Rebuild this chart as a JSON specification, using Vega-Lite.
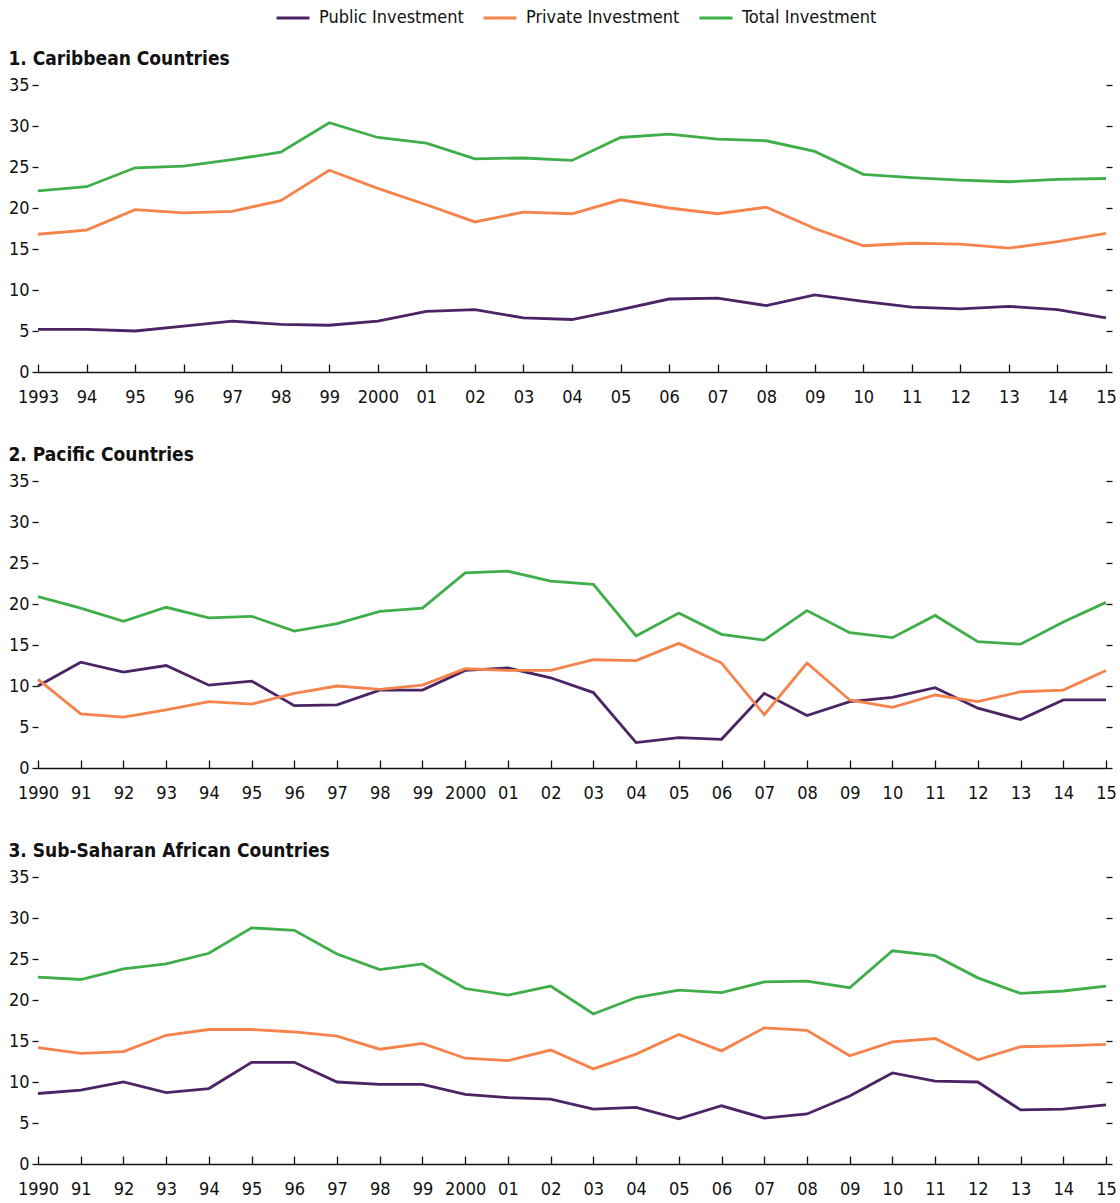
{
  "$schema": "https://vega.github.io/schema/vega-lite/v6.json",
  "background": "white",
  "padding": {"left": 8, "top": 0, "right": 6, "bottom": 4},
  "config": {
    "font": "DejaVu Sans Condensed, Roboto, sans-serif",
    "view": {"stroke": null},
    "axis": {"labelFont": "DejaVu Sans Condensed, Roboto, sans-serif", "labelFontSize": 18, "labelColor": "#111111", "tickColor": "#111111", "domainColor": "#111111", "tickWidth": 1.3, "domainWidth": 1.5, "grid": false, "title": null},
    "title": {"font": "DejaVu Sans Condensed, Roboto, sans-serif", "fontSize": 19, "fontWeight": "bold", "color": "#111111", "anchor": "start", "frame": "bounds", "offset": 7},
    "legend": {"labelFont": "DejaVu Sans Condensed, Roboto, sans-serif", "labelFontSize": 18, "labelColor": "#111111", "labelLimit": 300},
    "concat": {"spacing": 40}
  },
  "datasets": {
    "inv": [
      {"panel": 1, "year": 1993, "series": "Public Investment", "value": 5.2},
      {"panel": 1, "year": 1994, "series": "Public Investment", "value": 5.2},
      {"panel": 1, "year": 1995, "series": "Public Investment", "value": 5.0},
      {"panel": 1, "year": 1996, "series": "Public Investment", "value": 5.6},
      {"panel": 1, "year": 1997, "series": "Public Investment", "value": 6.2},
      {"panel": 1, "year": 1998, "series": "Public Investment", "value": 5.8},
      {"panel": 1, "year": 1999, "series": "Public Investment", "value": 5.7},
      {"panel": 1, "year": 2000, "series": "Public Investment", "value": 6.2},
      {"panel": 1, "year": 2001, "series": "Public Investment", "value": 7.4},
      {"panel": 1, "year": 2002, "series": "Public Investment", "value": 7.6},
      {"panel": 1, "year": 2003, "series": "Public Investment", "value": 6.6},
      {"panel": 1, "year": 2004, "series": "Public Investment", "value": 6.4},
      {"panel": 1, "year": 2005, "series": "Public Investment", "value": 7.6},
      {"panel": 1, "year": 2006, "series": "Public Investment", "value": 8.9},
      {"panel": 1, "year": 2007, "series": "Public Investment", "value": 9.0},
      {"panel": 1, "year": 2008, "series": "Public Investment", "value": 8.1},
      {"panel": 1, "year": 2009, "series": "Public Investment", "value": 9.4},
      {"panel": 1, "year": 2010, "series": "Public Investment", "value": 8.6},
      {"panel": 1, "year": 2011, "series": "Public Investment", "value": 7.9},
      {"panel": 1, "year": 2012, "series": "Public Investment", "value": 7.7},
      {"panel": 1, "year": 2013, "series": "Public Investment", "value": 8.0},
      {"panel": 1, "year": 2014, "series": "Public Investment", "value": 7.6},
      {"panel": 1, "year": 2015, "series": "Public Investment", "value": 6.6},
      {"panel": 1, "year": 1993, "series": "Private Investment", "value": 16.8},
      {"panel": 1, "year": 1994, "series": "Private Investment", "value": 17.3},
      {"panel": 1, "year": 1995, "series": "Private Investment", "value": 19.8},
      {"panel": 1, "year": 1996, "series": "Private Investment", "value": 19.4},
      {"panel": 1, "year": 1997, "series": "Private Investment", "value": 19.6},
      {"panel": 1, "year": 1998, "series": "Private Investment", "value": 20.9},
      {"panel": 1, "year": 1999, "series": "Private Investment", "value": 24.6},
      {"panel": 1, "year": 2000, "series": "Private Investment", "value": 22.4},
      {"panel": 1, "year": 2001, "series": "Private Investment", "value": 20.4},
      {"panel": 1, "year": 2002, "series": "Private Investment", "value": 18.3},
      {"panel": 1, "year": 2003, "series": "Private Investment", "value": 19.5},
      {"panel": 1, "year": 2004, "series": "Private Investment", "value": 19.3},
      {"panel": 1, "year": 2005, "series": "Private Investment", "value": 21.0},
      {"panel": 1, "year": 2006, "series": "Private Investment", "value": 20.0},
      {"panel": 1, "year": 2007, "series": "Private Investment", "value": 19.3},
      {"panel": 1, "year": 2008, "series": "Private Investment", "value": 20.1},
      {"panel": 1, "year": 2009, "series": "Private Investment", "value": 17.5},
      {"panel": 1, "year": 2010, "series": "Private Investment", "value": 15.4},
      {"panel": 1, "year": 2011, "series": "Private Investment", "value": 15.7},
      {"panel": 1, "year": 2012, "series": "Private Investment", "value": 15.6},
      {"panel": 1, "year": 2013, "series": "Private Investment", "value": 15.1},
      {"panel": 1, "year": 2014, "series": "Private Investment", "value": 15.9},
      {"panel": 1, "year": 2015, "series": "Private Investment", "value": 16.9},
      {"panel": 1, "year": 1993, "series": "Total Investment", "value": 22.1},
      {"panel": 1, "year": 1994, "series": "Total Investment", "value": 22.6},
      {"panel": 1, "year": 1995, "series": "Total Investment", "value": 24.9},
      {"panel": 1, "year": 1996, "series": "Total Investment", "value": 25.1},
      {"panel": 1, "year": 1997, "series": "Total Investment", "value": 25.9},
      {"panel": 1, "year": 1998, "series": "Total Investment", "value": 26.8},
      {"panel": 1, "year": 1999, "series": "Total Investment", "value": 30.4},
      {"panel": 1, "year": 2000, "series": "Total Investment", "value": 28.6},
      {"panel": 1, "year": 2001, "series": "Total Investment", "value": 27.9},
      {"panel": 1, "year": 2002, "series": "Total Investment", "value": 26.0},
      {"panel": 1, "year": 2003, "series": "Total Investment", "value": 26.1},
      {"panel": 1, "year": 2004, "series": "Total Investment", "value": 25.8},
      {"panel": 1, "year": 2005, "series": "Total Investment", "value": 28.6},
      {"panel": 1, "year": 2006, "series": "Total Investment", "value": 29.0},
      {"panel": 1, "year": 2007, "series": "Total Investment", "value": 28.4},
      {"panel": 1, "year": 2008, "series": "Total Investment", "value": 28.2},
      {"panel": 1, "year": 2009, "series": "Total Investment", "value": 26.9},
      {"panel": 1, "year": 2010, "series": "Total Investment", "value": 24.1},
      {"panel": 1, "year": 2011, "series": "Total Investment", "value": 23.7},
      {"panel": 1, "year": 2012, "series": "Total Investment", "value": 23.4},
      {"panel": 1, "year": 2013, "series": "Total Investment", "value": 23.2},
      {"panel": 1, "year": 2014, "series": "Total Investment", "value": 23.5},
      {"panel": 1, "year": 2015, "series": "Total Investment", "value": 23.6},
      {"panel": 2, "year": 1990, "series": "Public Investment", "value": 10.0},
      {"panel": 2, "year": 1991, "series": "Public Investment", "value": 12.9},
      {"panel": 2, "year": 1992, "series": "Public Investment", "value": 11.7},
      {"panel": 2, "year": 1993, "series": "Public Investment", "value": 12.5},
      {"panel": 2, "year": 1994, "series": "Public Investment", "value": 10.1},
      {"panel": 2, "year": 1995, "series": "Public Investment", "value": 10.6},
      {"panel": 2, "year": 1996, "series": "Public Investment", "value": 7.6},
      {"panel": 2, "year": 1997, "series": "Public Investment", "value": 7.7},
      {"panel": 2, "year": 1998, "series": "Public Investment", "value": 9.5},
      {"panel": 2, "year": 1999, "series": "Public Investment", "value": 9.5},
      {"panel": 2, "year": 2000, "series": "Public Investment", "value": 11.9},
      {"panel": 2, "year": 2001, "series": "Public Investment", "value": 12.2},
      {"panel": 2, "year": 2002, "series": "Public Investment", "value": 11.0},
      {"panel": 2, "year": 2003, "series": "Public Investment", "value": 9.2},
      {"panel": 2, "year": 2004, "series": "Public Investment", "value": 3.1},
      {"panel": 2, "year": 2005, "series": "Public Investment", "value": 3.7},
      {"panel": 2, "year": 2006, "series": "Public Investment", "value": 3.5},
      {"panel": 2, "year": 2007, "series": "Public Investment", "value": 9.1},
      {"panel": 2, "year": 2008, "series": "Public Investment", "value": 6.4},
      {"panel": 2, "year": 2009, "series": "Public Investment", "value": 8.1},
      {"panel": 2, "year": 2010, "series": "Public Investment", "value": 8.6},
      {"panel": 2, "year": 2011, "series": "Public Investment", "value": 9.8},
      {"panel": 2, "year": 2012, "series": "Public Investment", "value": 7.3},
      {"panel": 2, "year": 2013, "series": "Public Investment", "value": 5.9},
      {"panel": 2, "year": 2014, "series": "Public Investment", "value": 8.3},
      {"panel": 2, "year": 2015, "series": "Public Investment", "value": 8.3},
      {"panel": 2, "year": 1990, "series": "Private Investment", "value": 10.8},
      {"panel": 2, "year": 1991, "series": "Private Investment", "value": 6.6},
      {"panel": 2, "year": 1992, "series": "Private Investment", "value": 6.2},
      {"panel": 2, "year": 1993, "series": "Private Investment", "value": 7.1},
      {"panel": 2, "year": 1994, "series": "Private Investment", "value": 8.1},
      {"panel": 2, "year": 1995, "series": "Private Investment", "value": 7.8},
      {"panel": 2, "year": 1996, "series": "Private Investment", "value": 9.1},
      {"panel": 2, "year": 1997, "series": "Private Investment", "value": 10.0},
      {"panel": 2, "year": 1998, "series": "Private Investment", "value": 9.6},
      {"panel": 2, "year": 1999, "series": "Private Investment", "value": 10.1},
      {"panel": 2, "year": 2000, "series": "Private Investment", "value": 12.1},
      {"panel": 2, "year": 2001, "series": "Private Investment", "value": 11.9},
      {"panel": 2, "year": 2002, "series": "Private Investment", "value": 11.9},
      {"panel": 2, "year": 2003, "series": "Private Investment", "value": 13.2},
      {"panel": 2, "year": 2004, "series": "Private Investment", "value": 13.1},
      {"panel": 2, "year": 2005, "series": "Private Investment", "value": 15.2},
      {"panel": 2, "year": 2006, "series": "Private Investment", "value": 12.8},
      {"panel": 2, "year": 2007, "series": "Private Investment", "value": 6.5},
      {"panel": 2, "year": 2008, "series": "Private Investment", "value": 12.8},
      {"panel": 2, "year": 2009, "series": "Private Investment", "value": 8.3},
      {"panel": 2, "year": 2010, "series": "Private Investment", "value": 7.4},
      {"panel": 2, "year": 2011, "series": "Private Investment", "value": 8.9},
      {"panel": 2, "year": 2012, "series": "Private Investment", "value": 8.1},
      {"panel": 2, "year": 2013, "series": "Private Investment", "value": 9.3},
      {"panel": 2, "year": 2014, "series": "Private Investment", "value": 9.5},
      {"panel": 2, "year": 2015, "series": "Private Investment", "value": 11.9},
      {"panel": 2, "year": 1990, "series": "Total Investment", "value": 20.9},
      {"panel": 2, "year": 1991, "series": "Total Investment", "value": 19.5},
      {"panel": 2, "year": 1992, "series": "Total Investment", "value": 17.9},
      {"panel": 2, "year": 1993, "series": "Total Investment", "value": 19.6},
      {"panel": 2, "year": 1994, "series": "Total Investment", "value": 18.3},
      {"panel": 2, "year": 1995, "series": "Total Investment", "value": 18.5},
      {"panel": 2, "year": 1996, "series": "Total Investment", "value": 16.7},
      {"panel": 2, "year": 1997, "series": "Total Investment", "value": 17.6},
      {"panel": 2, "year": 1998, "series": "Total Investment", "value": 19.1},
      {"panel": 2, "year": 1999, "series": "Total Investment", "value": 19.5},
      {"panel": 2, "year": 2000, "series": "Total Investment", "value": 23.8},
      {"panel": 2, "year": 2001, "series": "Total Investment", "value": 24.0},
      {"panel": 2, "year": 2002, "series": "Total Investment", "value": 22.8},
      {"panel": 2, "year": 2003, "series": "Total Investment", "value": 22.4},
      {"panel": 2, "year": 2004, "series": "Total Investment", "value": 16.1},
      {"panel": 2, "year": 2005, "series": "Total Investment", "value": 18.9},
      {"panel": 2, "year": 2006, "series": "Total Investment", "value": 16.3},
      {"panel": 2, "year": 2007, "series": "Total Investment", "value": 15.6},
      {"panel": 2, "year": 2008, "series": "Total Investment", "value": 19.2},
      {"panel": 2, "year": 2009, "series": "Total Investment", "value": 16.5},
      {"panel": 2, "year": 2010, "series": "Total Investment", "value": 15.9},
      {"panel": 2, "year": 2011, "series": "Total Investment", "value": 18.6},
      {"panel": 2, "year": 2012, "series": "Total Investment", "value": 15.4},
      {"panel": 2, "year": 2013, "series": "Total Investment", "value": 15.1},
      {"panel": 2, "year": 2014, "series": "Total Investment", "value": 17.8},
      {"panel": 2, "year": 2015, "series": "Total Investment", "value": 20.2},
      {"panel": 3, "year": 1990, "series": "Public Investment", "value": 8.6},
      {"panel": 3, "year": 1991, "series": "Public Investment", "value": 9.0},
      {"panel": 3, "year": 1992, "series": "Public Investment", "value": 10.0},
      {"panel": 3, "year": 1993, "series": "Public Investment", "value": 8.7},
      {"panel": 3, "year": 1994, "series": "Public Investment", "value": 9.2},
      {"panel": 3, "year": 1995, "series": "Public Investment", "value": 12.4},
      {"panel": 3, "year": 1996, "series": "Public Investment", "value": 12.4},
      {"panel": 3, "year": 1997, "series": "Public Investment", "value": 10.0},
      {"panel": 3, "year": 1998, "series": "Public Investment", "value": 9.7},
      {"panel": 3, "year": 1999, "series": "Public Investment", "value": 9.7},
      {"panel": 3, "year": 2000, "series": "Public Investment", "value": 8.5},
      {"panel": 3, "year": 2001, "series": "Public Investment", "value": 8.1},
      {"panel": 3, "year": 2002, "series": "Public Investment", "value": 7.9},
      {"panel": 3, "year": 2003, "series": "Public Investment", "value": 6.7},
      {"panel": 3, "year": 2004, "series": "Public Investment", "value": 6.9},
      {"panel": 3, "year": 2005, "series": "Public Investment", "value": 5.5},
      {"panel": 3, "year": 2006, "series": "Public Investment", "value": 7.1},
      {"panel": 3, "year": 2007, "series": "Public Investment", "value": 5.6},
      {"panel": 3, "year": 2008, "series": "Public Investment", "value": 6.1},
      {"panel": 3, "year": 2009, "series": "Public Investment", "value": 8.3},
      {"panel": 3, "year": 2010, "series": "Public Investment", "value": 11.1},
      {"panel": 3, "year": 2011, "series": "Public Investment", "value": 10.1},
      {"panel": 3, "year": 2012, "series": "Public Investment", "value": 10.0},
      {"panel": 3, "year": 2013, "series": "Public Investment", "value": 6.6},
      {"panel": 3, "year": 2014, "series": "Public Investment", "value": 6.7},
      {"panel": 3, "year": 2015, "series": "Public Investment", "value": 7.2},
      {"panel": 3, "year": 1990, "series": "Private Investment", "value": 14.2},
      {"panel": 3, "year": 1991, "series": "Private Investment", "value": 13.5},
      {"panel": 3, "year": 1992, "series": "Private Investment", "value": 13.7},
      {"panel": 3, "year": 1993, "series": "Private Investment", "value": 15.7},
      {"panel": 3, "year": 1994, "series": "Private Investment", "value": 16.4},
      {"panel": 3, "year": 1995, "series": "Private Investment", "value": 16.4},
      {"panel": 3, "year": 1996, "series": "Private Investment", "value": 16.1},
      {"panel": 3, "year": 1997, "series": "Private Investment", "value": 15.6},
      {"panel": 3, "year": 1998, "series": "Private Investment", "value": 14.0},
      {"panel": 3, "year": 1999, "series": "Private Investment", "value": 14.7},
      {"panel": 3, "year": 2000, "series": "Private Investment", "value": 12.9},
      {"panel": 3, "year": 2001, "series": "Private Investment", "value": 12.6},
      {"panel": 3, "year": 2002, "series": "Private Investment", "value": 13.9},
      {"panel": 3, "year": 2003, "series": "Private Investment", "value": 11.6},
      {"panel": 3, "year": 2004, "series": "Private Investment", "value": 13.4},
      {"panel": 3, "year": 2005, "series": "Private Investment", "value": 15.8},
      {"panel": 3, "year": 2006, "series": "Private Investment", "value": 13.8},
      {"panel": 3, "year": 2007, "series": "Private Investment", "value": 16.6},
      {"panel": 3, "year": 2008, "series": "Private Investment", "value": 16.3},
      {"panel": 3, "year": 2009, "series": "Private Investment", "value": 13.2},
      {"panel": 3, "year": 2010, "series": "Private Investment", "value": 14.9},
      {"panel": 3, "year": 2011, "series": "Private Investment", "value": 15.3},
      {"panel": 3, "year": 2012, "series": "Private Investment", "value": 12.7},
      {"panel": 3, "year": 2013, "series": "Private Investment", "value": 14.3},
      {"panel": 3, "year": 2014, "series": "Private Investment", "value": 14.4},
      {"panel": 3, "year": 2015, "series": "Private Investment", "value": 14.6},
      {"panel": 3, "year": 1990, "series": "Total Investment", "value": 22.8},
      {"panel": 3, "year": 1991, "series": "Total Investment", "value": 22.5},
      {"panel": 3, "year": 1992, "series": "Total Investment", "value": 23.8},
      {"panel": 3, "year": 1993, "series": "Total Investment", "value": 24.4},
      {"panel": 3, "year": 1994, "series": "Total Investment", "value": 25.7},
      {"panel": 3, "year": 1995, "series": "Total Investment", "value": 28.8},
      {"panel": 3, "year": 1996, "series": "Total Investment", "value": 28.5},
      {"panel": 3, "year": 1997, "series": "Total Investment", "value": 25.6},
      {"panel": 3, "year": 1998, "series": "Total Investment", "value": 23.7},
      {"panel": 3, "year": 1999, "series": "Total Investment", "value": 24.4},
      {"panel": 3, "year": 2000, "series": "Total Investment", "value": 21.4},
      {"panel": 3, "year": 2001, "series": "Total Investment", "value": 20.6},
      {"panel": 3, "year": 2002, "series": "Total Investment", "value": 21.7},
      {"panel": 3, "year": 2003, "series": "Total Investment", "value": 18.3},
      {"panel": 3, "year": 2004, "series": "Total Investment", "value": 20.3},
      {"panel": 3, "year": 2005, "series": "Total Investment", "value": 21.2},
      {"panel": 3, "year": 2006, "series": "Total Investment", "value": 20.9},
      {"panel": 3, "year": 2007, "series": "Total Investment", "value": 22.2},
      {"panel": 3, "year": 2008, "series": "Total Investment", "value": 22.3},
      {"panel": 3, "year": 2009, "series": "Total Investment", "value": 21.5},
      {"panel": 3, "year": 2010, "series": "Total Investment", "value": 26.0},
      {"panel": 3, "year": 2011, "series": "Total Investment", "value": 25.4},
      {"panel": 3, "year": 2012, "series": "Total Investment", "value": 22.7},
      {"panel": 3, "year": 2013, "series": "Total Investment", "value": 20.8},
      {"panel": 3, "year": 2014, "series": "Total Investment", "value": 21.1},
      {"panel": 3, "year": 2015, "series": "Total Investment", "value": 21.7}
    ]
  },
  "resolve": {"scale": {"x": "independent", "y": "independent"}},
  "vconcat": [
    {
      "title": "1. Caribbean Countries",
      "width": 1068,
      "height": 287,
      "data": {"name": "inv"},
      "transform": [{"filter": "datum.panel == 1"}],
      "encoding": {
        "x": {"field": "year", "type": "quantitative", "scale": {"domain": [1993, 2015], "nice": false, "zero": false},
              "axis": {"values": [1993,1994,1995,1996,1997,1998,1999,2000,2001,2002,2003,2004,2005,2006,2007,2008,2009,2010,2011,2012,2013,2014,2015], "format": "d", "labelExpr": "(datum.value == 1993 || datum.value == 2000) ? toString(datum.value) : slice(toString(datum.value), 2)", "labelFlush": false, "labelOverlap": false, "tickSize": -8, "labelPadding": 24}}
      },
      "layer": [
        {
          "mark": {"type": "line", "strokeWidth": 2.8},
          "encoding": {
            "y": {"field": "value", "type": "quantitative", "scale": {"domain": [0, 35], "nice": false}, "axis": {"orient": "left", "values": [0,5,10,15,20,25,30,35], "domain": false, "tickSize": 6, "labelPadding": 3}},
            "color": {"field": "series", "type": "nominal", "scale": {"domain": ["Public Investment", "Private Investment", "Total Investment"], "range": ["#4B2466", "#F5834B", "#3FAE49"]},
                      "legend": {"orient": "none", "legendX": 237, "legendY": -85, "direction": "horizontal", "title": null, "symbolType": "stroke", "symbolSize": 1089, "symbolStrokeWidth": 3, "columnPadding": 13, "labelOffset": 8}}
          }
        },
        {
          "mark": {"type": "line", "strokeOpacity": 0},
          "encoding": {
            "y": {"field": "value", "type": "quantitative", "scale": {"domain": [0, 35], "nice": false}, "axis": {"orient": "right", "values": [0,5,10,15,20,25,30,35], "domain": false, "labels": false, "tickSize": 6}},
            "detail": {"field": "series"}
          }
        }
      ],
      "resolve": {"axis": {"y": "independent"}}
    },
    {
      "title": "2. Pacific Countries",
      "width": 1068,
      "height": 287,
      "data": {"name": "inv"},
      "transform": [{"filter": "datum.panel == 2"}],
      "encoding": {
        "x": {"field": "year", "type": "quantitative", "scale": {"domain": [1990, 2015], "nice": false, "zero": false},
              "axis": {"values": [1990,1991,1992,1993,1994,1995,1996,1997,1998,1999,2000,2001,2002,2003,2004,2005,2006,2007,2008,2009,2010,2011,2012,2013,2014,2015], "format": "d", "labelExpr": "(datum.value == 1990 || datum.value == 2000) ? toString(datum.value) : slice(toString(datum.value), 2)", "labelFlush": false, "labelOverlap": false, "tickSize": -8, "labelPadding": 24}}
      },
      "layer": [
        {
          "mark": {"type": "line", "strokeWidth": 2.8},
          "encoding": {
            "y": {"field": "value", "type": "quantitative", "scale": {"domain": [0, 35], "nice": false}, "axis": {"orient": "left", "values": [0,5,10,15,20,25,30,35], "domain": false, "tickSize": 6, "labelPadding": 3}},
            "color": {"field": "series", "type": "nominal"}
          }
        },
        {
          "mark": {"type": "line", "strokeOpacity": 0},
          "encoding": {
            "y": {"field": "value", "type": "quantitative", "scale": {"domain": [0, 35], "nice": false}, "axis": {"orient": "right", "values": [0,5,10,15,20,25,30,35], "domain": false, "labels": false, "tickSize": 6}},
            "detail": {"field": "series"}
          }
        }
      ],
      "resolve": {"axis": {"y": "independent"}}
    },
    {
      "title": "3. Sub-Saharan African Countries",
      "width": 1068,
      "height": 287,
      "data": {"name": "inv"},
      "transform": [{"filter": "datum.panel == 3"}],
      "encoding": {
        "x": {"field": "year", "type": "quantitative", "scale": {"domain": [1990, 2015], "nice": false, "zero": false},
              "axis": {"values": [1990,1991,1992,1993,1994,1995,1996,1997,1998,1999,2000,2001,2002,2003,2004,2005,2006,2007,2008,2009,2010,2011,2012,2013,2014,2015], "format": "d", "labelExpr": "(datum.value == 1990 || datum.value == 2000) ? toString(datum.value) : slice(toString(datum.value), 2)", "labelFlush": false, "labelOverlap": false, "tickSize": -8, "labelPadding": 24}}
      },
      "layer": [
        {
          "mark": {"type": "line", "strokeWidth": 2.8},
          "encoding": {
            "y": {"field": "value", "type": "quantitative", "scale": {"domain": [0, 35], "nice": false}, "axis": {"orient": "left", "values": [0,5,10,15,20,25,30,35], "domain": false, "tickSize": 6, "labelPadding": 3}},
            "color": {"field": "series", "type": "nominal"}
          }
        },
        {
          "mark": {"type": "line", "strokeOpacity": 0},
          "encoding": {
            "y": {"field": "value", "type": "quantitative", "scale": {"domain": [0, 35], "nice": false}, "axis": {"orient": "right", "values": [0,5,10,15,20,25,30,35], "domain": false, "labels": false, "tickSize": 6}},
            "detail": {"field": "series"}
          }
        }
      ],
      "resolve": {"axis": {"y": "independent"}}
    }
  ]
}
